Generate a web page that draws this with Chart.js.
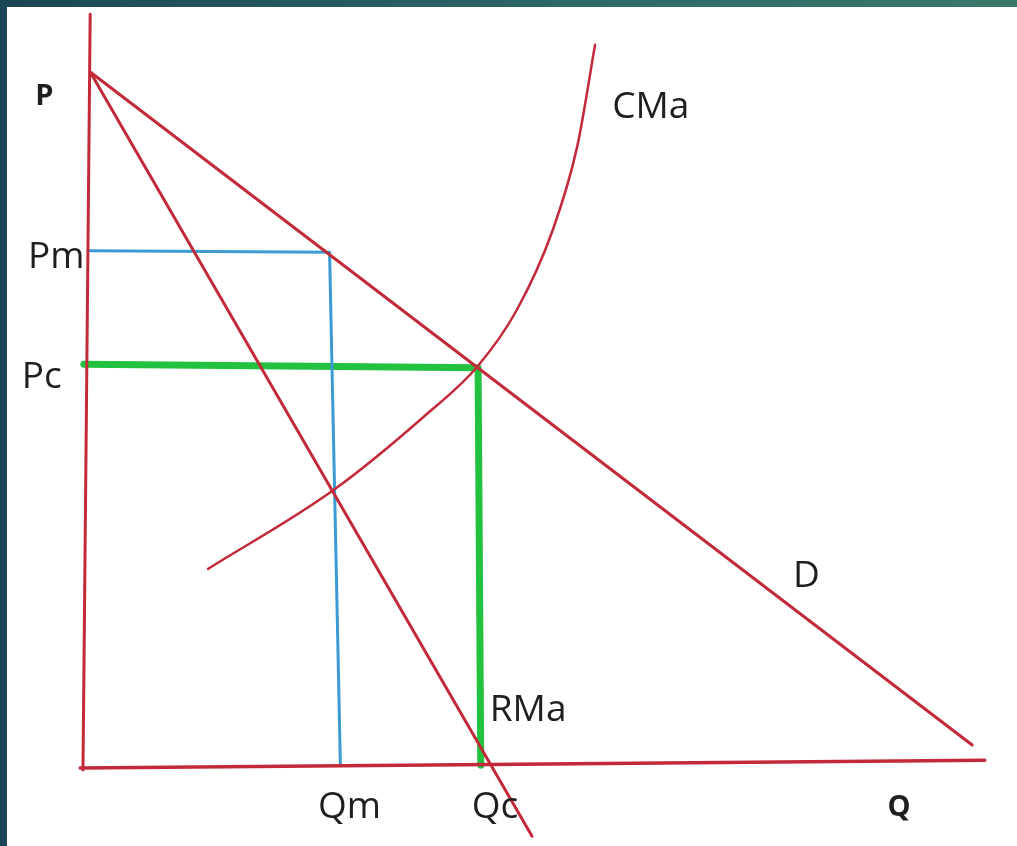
<!DOCTYPE html>
<html>
<head>
<meta charset="utf-8">
<script src="https://cdn.jsdelivr.net/npm/chart.js@4"></script>
<style>
  html, body { margin: 0; padding: 0; background: #ffffff; }
  #wrap { position: relative; width: 1017px; height: 846px; overflow: hidden; }
  #topBar { position: absolute; left: 0; top: 0; width: 1017px; height: 7px;
            background: linear-gradient(to right, #1b4655, #2f6a68 60%, #3a786b); }
  #leftBar { position: absolute; left: 0; top: 0; width: 7px; height: 846px; background: #1b4655; }
  #miGrafico { position: absolute; left: 0; top: 0; }
</style>
</head>
<body>
<div id="wrap">
  <div id="topBar"></div>
  <div id="leftBar"></div>
  <canvas id="miGrafico" width="1017" height="846"></canvas>
</div>
<script>
// Datos del diagrama de monopolio (Q = cantidad, P = precio, unidades arbitrarias)
var ejeP = [{ x: 0.8, y: 108.3 }, { x: 0.0, y: -0.3 }];
var ejeQ = [{ x: -0.3, y: 0.0 }, { x: 100.2, y: 1.1 }];
var demanda = [{ x: 0.8, y: 100 }, { x: 98.8, y: 3.3 }];
var ingresoMarginal = [{ x: 0.8, y: 100 }, { x: 49.9, y: -9.8 }];
var costoMarginal = [
  { x: 13.9, y: 28.6 }, { x: 27.8, y: 39.9 }, { x: 37.8, y: 50.4 },
  { x: 43.9, y: 57.8 }, { x: 48.2, y: 65.8 }, { x: 52.2, y: 77.3 },
  { x: 54.9, y: 89.2 }, { x: 56.9, y: 103.9 }
];
var monopolio = [{ x: 0.8, y: 74.3 }, { x: 27.4, y: 74.1 }, { x: 28.6, y: 0.4 }];
var competencia = [{ x: 0.1, y: 58.0 }, { x: 43.9, y: 57.5 }, { x: 44.2, y: 0.4 }];

// Etiquetas de texto (posición en unidades del gráfico)
var etiquetas = [
  { texto: "P", q: -5.3, p: 95.3, negrita: true },
  { texto: "CMa", q: 58.8, p: 93.4 },
  { texto: "Pm", q: -6.1, p: 71.8 },
  { texto: "Pc", q: -6.8, p: 54.6 },
  { texto: "D", q: 78.9, p: 26.0 },
  { texto: "RMa", q: 45.2, p: 6.8 },
  { texto: "Qm", q: 26.1, p: -7.2 },
  { texto: "Qc", q: 43.2, p: -7.2 },
  { texto: "Q", q: 89.4, p: -6.9, negrita: true }
];

var rojo = "#c22a3a";

var pluginEtiquetas = {
  id: "etiquetas",
  afterDatasetsDraw: function (chart) {
    var ctx = chart.ctx;
    var sx = chart.scales.x, sy = chart.scales.y;
    ctx.save();
    ctx.fillStyle = "#1f1f1f";
    ctx.textBaseline = "alphabetic";
    ctx.textAlign = "left";
    etiquetas.forEach(function (e) {
      ctx.font = e.negrita ? "bold 29px 'Open Sans'" : "37px 'Open Sans'";
      ctx.fillText(e.texto, sx.getPixelForValue(e.q), sy.getPixelForValue(e.p));
    });
    ctx.restore();
  }
};

function linea(datos, color, ancho, curva) {
  return {
    data: datos,
    showLine: true,
    borderColor: color,
    borderWidth: ancho,
    pointRadius: 0,
    fill: false,
    tension: curva ? 0.4 : 0,
    cubicInterpolationMode: curva ? "monotone" : "default",
    borderCapStyle: "round",
    borderJoinStyle: "round"
  };
}

var ctx = document.getElementById("miGrafico").getContext("2d");
var myChart = new Chart(ctx, {
  type: "scatter",
  data: {
    datasets: [
      linea(ejeP, rojo, 3),
      linea(ejeQ, rojo, 3.5),
      linea(demanda, rojo, 3),
      linea(ingresoMarginal, rojo, 3),
      linea(costoMarginal, rojo, 2.5, true),
      linea(monopolio, "#3a9bd6", 3),
      linea(competencia, "#22c13f", 7)
    ]
  },
  options: {
    responsive: false,
    animation: false,
    layout: { padding: 0 },
    plugins: { legend: { display: false }, tooltip: { enabled: false } },
    scales: {
      x: { type: "linear", display: false, min: -9.22, max: 103.78 },
      y: { type: "linear", display: false, min: -11.21, max: 110.34 }
    }
  },
  plugins: [pluginEtiquetas]
});
</script>
</body>
</html>
